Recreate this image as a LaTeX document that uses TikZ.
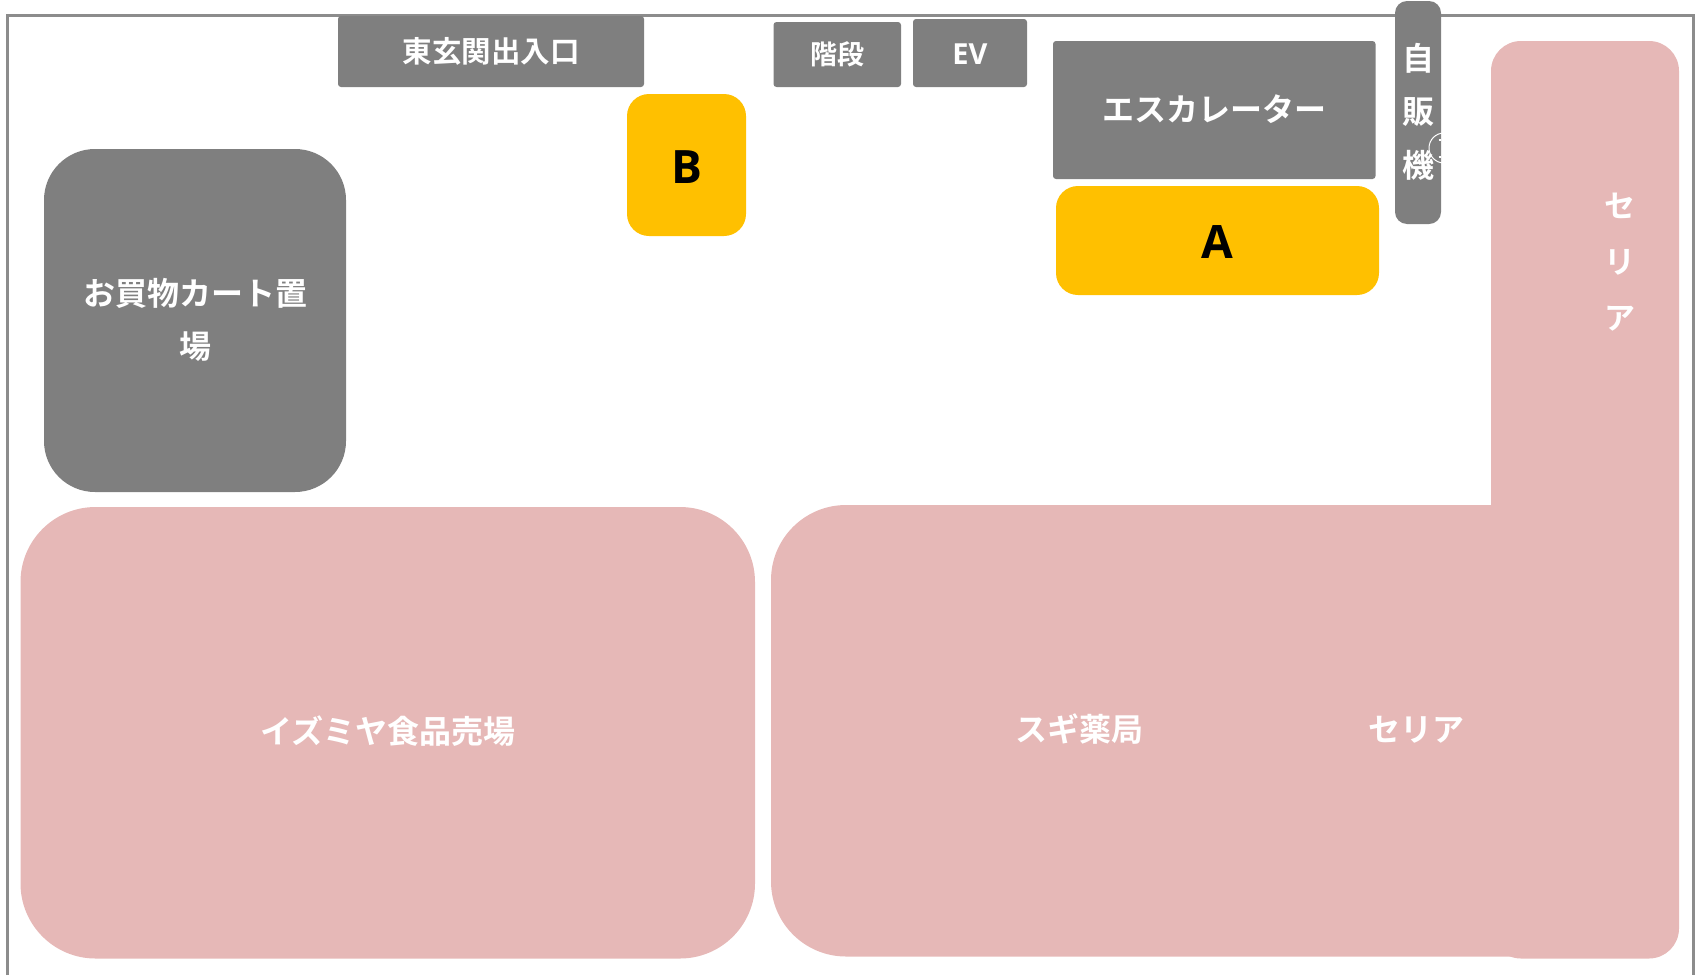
\documentclass[tikz,border=0pt]{standalone}
\usepackage{fontspec}
\setmainfont{Noto Sans CJK JP}[BoldFont={* Bold}]
\newfontfamily\latinbold{Open Sans}[BoldFont={* Bold}]
\newcommand{\nudge}[2]{\raisebox{#1}[\height][\depth]{#2}}
\definecolor{shopgray}{HTML}{7F7F7F}
\definecolor{shoppink}{HTML}{E6B8B7}
\definecolor{shopyellow}{HTML}{FFC000}
\tikzset{
  x=1pt,y=-1pt,
  area/.style={inner sep=0pt,outer sep=0pt,align=center},
  grayarea/.style={area,fill=shopgray,text=white},
  pinkarea/.style={area,fill=shoppink,text=white},
  yellowarea/.style={area,fill=shopyellow,text=black,rounded corners=22pt,font=\latinbold\fontsize{46}{50}\selectfont\bfseries},
  lbl/.style={inner sep=0pt,outer sep=0pt,align=center,text=white},
  fullsize/.style={font=\fontsize{32}{53}\selectfont\bfseries},
}
\begin{document}
\begin{tikzpicture}
\useasboundingbox (0,0) rectangle (1702,975);
% outer wall
\coordinate (wallbl) at (7,975);
\coordinate (walltl) at (7,15);
\coordinate (walltr) at (1693,15);
\coordinate (wallbr) at (1693,975);
\draw[shopgray,line width=3pt,opacity=.9] (wallbl) -- (walltl) -- (walltr) -- (wallbr);
% pink shops
\node[pinkarea,fullsize,rounded corners=75pt,minimum width=734.5pt,minimum height=451.5pt] (izumiya) at (387.75,732.75) {\nudge{2pt}{イズミヤ食品売場}};
\node[pinkarea,rounded corners=75pt,minimum width=829pt,minimum height=451.5pt] (sugi) at (1185.5,730.75) {};
\node[pinkarea,rounded corners=30pt,minimum width=188pt,minimum height=917.5pt] (seriatall) at (1585,499.75) {};
\node[lbl,fullsize] (sugilabel) at (1079.5,729) {スギ薬局};
\node[lbl,fullsize] (serialabel) at (1416,730) {セリア};
\node[lbl,font=\fontsize{31}{56}\selectfont\bfseries] (seriav) at (1620,262) {セ\\リ\\ア};
% grey blocks
\node[grayarea,rounded corners=3pt,minimum width=306pt,minimum height=71pt,font=\fontsize{29.5}{36}\selectfont\bfseries] (door) at (491,51.5) {東玄関出入口};
\node[grayarea,rounded corners=3pt,minimum width=127.5pt,minimum height=65pt,font=\fontsize{27}{36}\selectfont\bfseries] (stairs) at (837.25,54.5) {階段};
\node[grayarea,rounded corners=3pt,minimum width=114pt,minimum height=68pt,font=\latinbold\fontsize{29}{36}\selectfont\bfseries] (ev) at (970,53) {\nudge{-1pt}{EV}};
\node[grayarea,fullsize,rounded corners=3pt,minimum width=322.5pt,minimum height=138pt] (esc) at (1214.25,110) {\nudge{1pt}{エスカレーター}};
\node[grayarea,fullsize,rounded corners=51pt,minimum width=302pt,minimum height=343pt] (cart) at (195,320.5) {\nudge{1pt}{お買物カート置}\\\nudge{1pt}{場}};
\node[grayarea,fullsize,rounded corners=12pt,minimum width=46pt,minimum height=223pt] (vending) at (1418,112.5) {\nudge{1pt}{自}\\\nudge{1pt}{販}\\機};
% small round marker over the vending block
\node[circle,draw=white,line width=1pt,minimum size=30pt,inner sep=0pt] (marker) at (1444,148) {};
\coordinate (tick1a) at (1438.5,140);
\coordinate (tick1b) at (1441,140);
\coordinate (tick2a) at (1438.5,157);
\coordinate (tick2b) at (1441,157);
\draw[white,line width=1.5pt] (tick1a) -- (tick1b) (tick2a) -- (tick2b);
% yellow spots
\node[yellowarea,minimum width=323pt,minimum height=109pt] (spota) at (1217.5,240.5) {\nudge{-2pt}{A}};
\node[yellowarea,minimum width=119pt,minimum height=142pt] (spotb) at (686.5,165) {\nudge{-2pt}{B}};
\end{tikzpicture}
\end{document}
